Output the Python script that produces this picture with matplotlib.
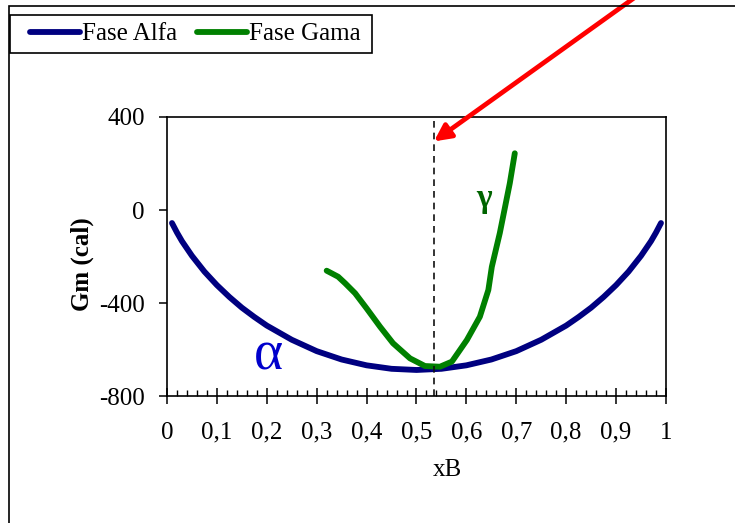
import matplotlib
matplotlib.use('Agg')
import matplotlib.pyplot as plt
from matplotlib.patches import Rectangle
from matplotlib.ticker import MultipleLocator, FuncFormatter

plt.rcParams['font.family'] = ['Liberation Serif', 'DejaVu Serif']
plt.rcParams['axes.unicode_minus'] = False

# Curva da fase alfa (solucao ideal)
x_alfa = [0.01, 0.02, 0.03, 0.05, 0.075, 0.10, 0.125, 0.15, 0.175, 0.20, 0.25,
          0.30, 0.35, 0.40, 0.45, 0.50, 0.55, 0.60, 0.65, 0.70, 0.75, 0.80,
          0.825, 0.85, 0.875, 0.90, 0.925, 0.95, 0.97, 0.98, 0.99]
g_alfa = [-56, -97, -134, -197, -265, -323, -374, -420, -460, -497, -558,
          -607, -643, -668, -683, -688, -683, -668, -643, -607, -558, -497,
          -460, -420, -374, -323, -265, -197, -134, -97, -56]

# Curva da fase gama
x_gama = [0.320, 0.343, 0.357, 0.377, 0.400, 0.427, 0.453, 0.487, 0.517, 0.547,
          0.571, 0.601, 0.627, 0.644, 0.651, 0.667, 0.687, 0.697]
g_gama = [-261, -287, -315, -358, -423, -502, -573, -638, -671, -674,
          -652, -559, -459, -344, -244, -99, 115, 244]

x_tangente = 0.535
y_ticks = [-800, -400, 0, 400]

W, H = 735, 523
fig = plt.figure(figsize=(W / 100, H / 100), dpi=100)
ax = fig.add_axes([0.2272, 0.2428, 0.6789, 0.5335])

ax.plot(x_alfa, g_alfa, color='#000080', lw=4.2, solid_capstyle='round',
        solid_joinstyle='round', label='Fase Alfa')
ax.plot(x_gama, g_gama, color='#008000', lw=4.2, solid_capstyle='round',
        solid_joinstyle='round', label='Fase Gama')
ax.axvline(x_tangente, color='#111111', lw=1.2, ls=(0, (4, 3)))

ax.text(0.204, -624, 'α', color='#0000CC', fontsize=40, ha='center', va='center')
ax.text(0.635, 50, 'γ', color='#006400', fontsize=24, fontweight='bold',
        ha='center', va='center')

ax.set_xlim(0, 1)
ax.set_ylim(-800, 400)
ax.set_yticks(y_ticks)
ax.xaxis.set_major_locator(MultipleLocator(0.1))
ax.xaxis.set_minor_locator(MultipleLocator(0.02))
ax.xaxis.set_major_formatter(FuncFormatter(lambda v, p: ('%g' % round(v, 1)).replace('.', ',')))
ax.tick_params(axis='x', which='major', direction='inout', length=11, width=1.1,
               labelsize=18, pad=13)
ax.tick_params(axis='x', which='minor', direction='in', length=4, width=1.0)
ax.tick_params(axis='y', which='major', direction='out', length=6, width=1.1,
               labelsize=18, pad=10)
for s in ax.spines.values():
    s.set_linewidth(1.2)

ax.set_xlabel('xB', fontsize=18)
ax.set_ylabel('Gm (cal)', fontsize=18, fontweight='bold')
ax.xaxis.set_label_coords(0.561, -0.226)
ax.yaxis.set_label_coords(-0.146, 0.473)

# legenda sem moldura; a caixa e desenhada a parte
leg = fig.legend(loc='center left', bbox_to_anchor=(30 / W, 1 - 34 / H),
                 ncol=2, fontsize=18, frameon=False,
                 handlelength=2.0, handletextpad=0.08, columnspacing=0.8,
                 borderpad=0, borderaxespad=0)
fig.patches.append(Rectangle((10 / W, 1 - 53 / H), 362 / W, 38 / H,
                             transform=fig.transFigure, fill=False,
                             edgecolor='black', lw=1.2))

# seta vermelha apontando para a tangente
ax.annotate('', xy=(x_tangente, 295), xycoords='data',
            xytext=(648, 535), textcoords='figure pixels',
            arrowprops=dict(arrowstyle='-|>', color='red', lw=3.4, mutation_scale=25,
                            shrinkA=0, shrinkB=0),
            annotation_clip=False)

# moldura externa do grafico
fig.patches.append(Rectangle((9 / W, -0.05), 1.1, 1 - 6 / H + 0.05,
                             transform=fig.transFigure, fill=False,
                             edgecolor='black', lw=1.2, clip_on=False))

fig.savefig('out.png', dpi=100)
